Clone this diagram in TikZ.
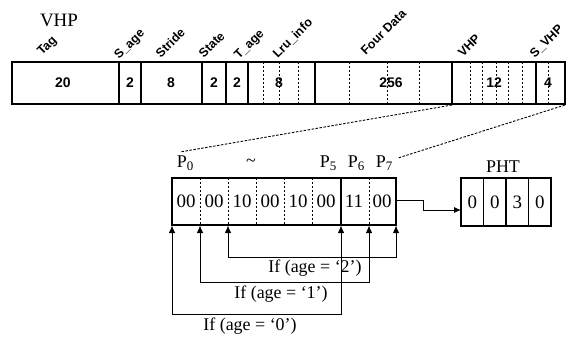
\documentclass[tikz,border=0pt]{standalone}
\usepackage{fontspec}
\setmainfont{Liberation Serif}
\newfontfamily\labelsans{Liberation Sans}
\usetikzlibrary{arrows.meta}
\begin{document}
\begin{tikzpicture}[x=1bp,y=-1bp,
  reg/.style={draw,line width=1.5bp},
  solidsep/.style={line width=1.1bp},
  dashsep/.style={line width=0.9bp,dash pattern=on 2bp off 2bp},
  rotlab/.style={rotate=45,anchor=south west,inner sep=0pt,font=\labelsans\bfseries\fontsize{12.5}{12.5}\selectfont},
  numlab/.style={inner sep=0pt,font=\labelsans\bfseries\fontsize{14}{14}\selectfont},
  cell/.style={inner sep=0pt,font=\fontsize{19}{19}\selectfont},
  serif/.style={inner sep=0pt,font=\fontsize{18}{18}\selectfont},
  zoomline/.style={line width=0.9bp,dash pattern=on 2.5bp off 1.5bp},
  conn/.style={line width=0.9bp,{Latex[length=7.5bp,width=6.5bp]}-{Latex[length=7.5bp,width=6.5bp]}},
  link/.style={line width=0.9bp,-{Latex[length=7bp,width=6bp]}}
]
\useasboundingbox (0,0) rectangle (572,341);

% ---------- top register ----------
\node[serif,font=\fontsize{19}{19}\selectfont] (vhptitle) at (59,20) {VHP};
\coordinate (tTL) at (12,62);
\coordinate (tBR) at (565,104);
\draw[reg] (tTL) rectangle (tBR);
\foreach \x in {119,141,202,226,248,315,452,536}
  \draw[solidsep] (\x,62) -- (\x,104);
\foreach \x in {263,279,298,349,387,419,470,482,496,508,522,548}
  \draw[dashsep] (\x,62) -- (\x,104);

\node[numlab] (n1) at (63,83) {20};
\node[numlab] (n2) at (130,83) {2};
\node[numlab] (n3) at (171,83) {8};
\node[numlab] (n4) at (214,83) {2};
\node[numlab] (n5) at (237,83) {2};
\node[numlab] (n6) at (279,83) {8};
\node[numlab] (n7) at (391,83) {256};
\node[numlab] (n8) at (494,83) {12};
\node[numlab] (n9) at (548,83) {4};

\node[rotlab] (l1) at (44,58) {Tag};
\node[rotlab] (l2) at (121,62) {S\_age};
\node[rotlab] (l3) at (161,59) {Stride};
\node[rotlab] (l4) at (204,59) {State};
\node[rotlab] (l5) at (241,62) {T\_age};
\node[rotlab] (l6) at (279,60) {Lru\_info};
\node[rotlab] (l7) at (366,56) {Four Data};
\node[rotlab] (l8) at (463,58) {VHP};
\node[rotlab] (l9) at (536,60) {S\_VHP};

% ---------- lower register ----------
\coordinate (vhpL) at (452,105);
\coordinate (vhpR) at (565,105);
\coordinate (bTL) at (172,178);
\coordinate (bBR) at (396,225);
\draw[reg,line width=1.2bp] (bTL) rectangle (bBR);
\foreach \x in {200,228,256,284,312,369}
  \draw[dashsep] (\x,178) -- (\x,225);
\draw[solidsep] (341,178) -- (341,225);
\foreach \v [count=\i] in {00,00,10,00,10,00,11,00}
  \node[cell] (c\i) at (172+28*\i-14,201) {\v};

\node[serif] (p0) at (185,163) {P\raisebox{-3bp}{\fontsize{13}{13}\selectfont 0}};
\node[serif] (tilde) at (251,163) {\textasciitilde};
\node[serif] (p5) at (328,163) {P\raisebox{-3bp}{\fontsize{13}{13}\selectfont 5}};
\node[serif] (p6) at (356,163) {P\raisebox{-3bp}{\fontsize{13}{13}\selectfont 6}};
\node[serif] (p7) at (384,163) {P\raisebox{-3bp}{\fontsize{13}{13}\selectfont 7}};

\coordinate (zl) at (180,152);
\coordinate (zr) at (398,158);
\draw[zoomline] (vhpL) -- (zl);
\draw[zoomline] (vhpR) -- (zr);

% ---------- PHT ----------
\node[serif] (phtlab) at (503,167) {PHT};
\coordinate (pTL) at (461,178);
\coordinate (pBR) at (551,226);
\draw[reg,line width=1.2bp] (pTL) rectangle (pBR);
\foreach \x in {483.5,506,528.5}
  \draw[solidsep] (\x,178) -- (\x,226);
\foreach \v [count=\i] in {0,0,3,0}
  \node[cell] (h\i) at (461+22.5*\i-11.25,202) {\v};

\coordinate (aout) at (396,200);
\coordinate (ain) at (461,210);
\draw[link] (aout) -- (423,200) -- (423,210) -- (ain);

% ---------- age connectors ----------
\draw[conn] (228,225.5) -- (228,257) -- (396,257) -- (396,225.5);
\draw[conn] (200,225.5) -- (200,282) -- (369,282) -- (369,225.5);
\draw[conn] (172,225.5) -- (172,314) -- (341,314) -- (341,225.5);
\node[serif] (if2) at (315,268) {If (age = ‘2’)};
\node[serif] (if1) at (281,294) {If (age = ‘1’)};
\node[serif] (if0) at (250,326) {If (age = ‘0’)};
\end{tikzpicture}
\end{document}
